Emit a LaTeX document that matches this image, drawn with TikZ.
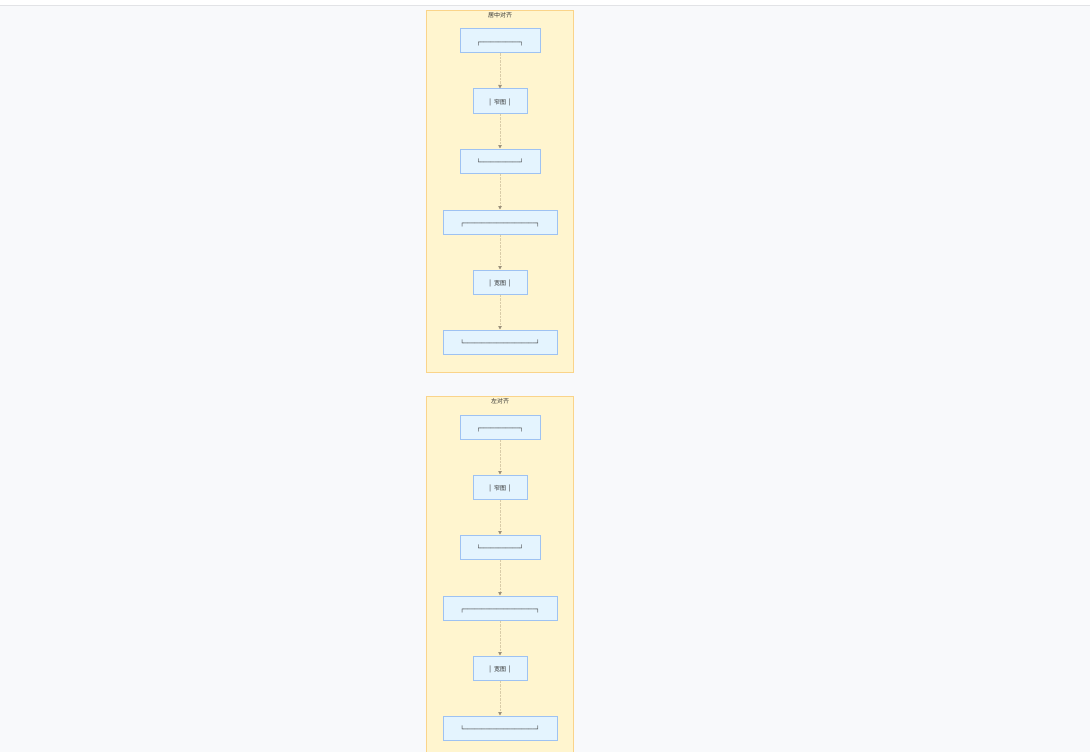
\documentclass[tikz,border=0pt]{standalone}
\usepackage{fontspec}
\setmainfont{DejaVu Sans}
\newfontfamily\cjk{Noto Sans CJK SC}
\usetikzlibrary{arrows.meta, positioning}
\definecolor{pagebg}{HTML}{F8F9FB}
\definecolor{topline}{HTML}{E2E3E6}
\definecolor{groupfill}{HTML}{FFF5CF}
\definecolor{groupedge}{HTML}{FAD48A}
\definecolor{boxfill}{HTML}{E4F4FE}
\definecolor{boxedge}{HTML}{9EC2F2}
\definecolor{linktan}{HTML}{D9CCA8}
\definecolor{linktip}{HTML}{9C917C}
\definecolor{textgray}{HTML}{2E2E2E}

\begin{document}
\begin{tikzpicture}[x=1pt, y=-1pt,
  groupbox/.style={draw=groupedge, fill=groupfill, line width=0.8pt},
  grouptitle/.style={text=textgray, inner sep=0pt, font=\fontsize{6}{7}\selectfont},
  flowbox/.style={draw=boxedge, fill=boxfill, line width=1pt,
    minimum height=24pt, inner sep=0pt, text=textgray,
    text height=6.2pt, text depth=0pt,
    font=\fontsize{6}{7}\selectfont},
  flowlink/.style={draw=linktan, line width=1pt, dash pattern=on 2.5pt off 1pt,
    -{Triangle[length=3.5pt, width=3.5pt, color=linktip]}}]

  % ── Page ──────────────────────────────────────────────────────────────────
  \clip (0,0) rectangle (1090,752);
  \fill[white] (0,0) rectangle (1090,752);
  \fill[pagebg] (0,6) rectangle (1090,752);
  \draw[topline, line width=1.5pt] (0,5.5) -- (1090,5.5);

  % ── Two groups: centred / left aligned ───────────────────────────────────
  \foreach \g/\title/\yoff in {c/居中对齐/0, l/左对齐/386} {
    \draw[groupbox] (426,10+\yoff) rectangle (573,372+\yoff);
    \node[grouptitle] (\g title) at (500,15.5+\yoff) {\cjk \title};

    \node[flowbox, minimum width=80pt]  (\g1) at (500,41+\yoff)  {┌───────────┐};
    \node[flowbox, minimum width=54pt]  (\g2) at (500,101+\yoff) {│ {\cjk 窄图} │};
    \node[flowbox, minimum width=80pt]  (\g3) at (500,161+\yoff) {└───────────┘};
    \node[flowbox, minimum width=114pt] (\g4) at (500,222+\yoff) {┌────────────────────┐};
    \node[flowbox, minimum width=54pt]  (\g5) at (500,282+\yoff) {│ {\cjk 宽图} │};
    \node[flowbox, minimum width=114pt] (\g6) at (500,342+\yoff) {└────────────────────┘};

    \draw[flowlink] (\g1) -- (\g2);
    \draw[flowlink] (\g2) -- (\g3);
    \draw[flowlink] (\g3) -- (\g4);
    \draw[flowlink] (\g4) -- (\g5);
    \draw[flowlink] (\g5) -- (\g6);
  }
\end{tikzpicture}
\end{document}
